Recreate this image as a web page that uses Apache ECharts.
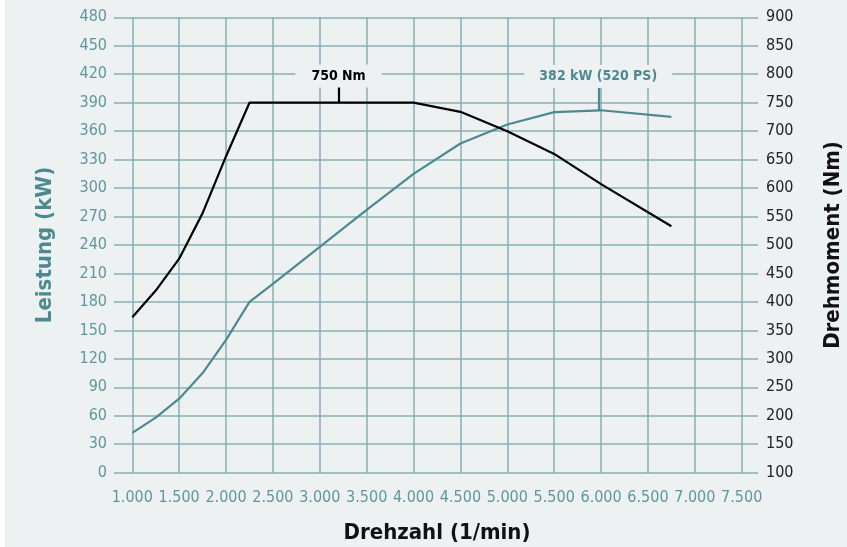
<!DOCTYPE html>
<html>
<head>
<meta charset="utf-8">
<script src="https://cdn.jsdelivr.net/npm/echarts@6/dist/echarts.min.js"></script>
<style>
html,body{margin:0;padding:0;background:#ffffff;}
#chart{width:847px;height:547px;}
</style>
</head>
<body>
<div id="chart"></div>
<script>
// Data
var rpmPower   = [1000, 1250, 1500, 1750, 2000, 2250, 2500, 3000, 3500, 4000, 4500, 5000, 5500, 6000, 6750];
var powerKW    = [42,   58,   78,   105,  140,  180,  199,  238,  277,  315,  347,  367,  380,  382,  375];
var rpmTorque  = [1000, 1250, 1500, 1750, 2000, 2250, 4000, 4500, 5000, 5500, 6000, 6750];
var torqueNm   = [373,  420,  476,  556,  656,  750,  750,  734,  700,  660,  607,  533];
var xTicks     = [1000, 1500, 2000, 2500, 3000, 3500, 4000, 4500, 5000, 5500, 6000, 6500, 7000, 7500];
var leftTicks  = [0, 30, 60, 90, 120, 150, 180, 210, 240, 270, 300, 330, 360, 390, 420, 450, 480];
var rightTicks = [100, 150, 200, 250, 300, 350, 400, 450, 500, 550, 600, 650, 700, 750, 800, 850, 900];
var torqueNote = {rpm: 3200, value: 750, tip: 778, labelAt: 797, text: '750 Nm'};
var powerNote  = {rpm: 5970, value: 382, tip: 407, labelAt: 417.5, text: '382 kW (520 PS)'};

var BG = '#edf1f2';
var TEAL = '#4d8a90';
var TEAL_TXT = '#5f979c';
var GRID = '#86afb4';
var TICKFONT = "'Liberation Sans Narrow','DejaVu Sans Condensed','Roboto',sans-serif";
var BOLDFONT = "'Liberation Sans Narrow','DejaVu Sans Condensed','Roboto',sans-serif";

function pair(xs, ys){ return xs.map(function(x,i){ return [x, ys[i]]; }); }
function fmtRpm(v){ var s = String(v); return s.slice(0, s.length-3) + '.' + s.slice(-3); }

var chart = echarts.init(document.getElementById('chart'));
chart.setOption({
  backgroundColor: BG,
  animation: false,
  graphic: [{type:'rect', left:0, top:0, shape:{x:0,y:0,width:5,height:547}, style:{fill:'#ffffff'}, silent:true}],
  grid: [
    {left:114, right:89, top:17.3, bottom:547-472.7, outerBoundsMode:'none', containLabel:false},
    {left:132.3, right:105.3, top:17.3, bottom:547-472.7, outerBoundsMode:'none', containLabel:false}
  ],
  xAxis: [
    {gridIndex:0, type:'value', min:0, max:1, show:false},
    {gridIndex:1, type:'value', min:xTicks[0], max:xTicks[xTicks.length-1], interval:500,
      axisLine:{show:false}, axisTick:{show:false},
      splitLine:{show:true, lineStyle:{color:GRID, width:1.5}},
      axisLabel:{color:TEAL_TXT, fontFamily:TICKFONT, fontSize:16, margin:17, formatter:fmtRpm},
      name:'Drehzahl (1/min)', nameLocation:'middle', nameGap:50,
      nameTextStyle:{color:'#111', fontFamily:BOLDFONT, fontWeight:'bold', fontSize:22}
    }
  ],
  yAxis: [
    {gridIndex:0, type:'value', position:'left', min:leftTicks[0], max:leftTicks[leftTicks.length-1], interval:30,
      axisLine:{show:false}, axisTick:{show:false},
      splitLine:{show:true, lineStyle:{color:GRID, width:1.5}},
      axisLabel:{color:TEAL_TXT, fontFamily:TICKFONT, fontSize:16, margin:7},
      name:'Leistung (kW)', nameLocation:'middle', nameGap:58, nameRotate:90,
      nameTextStyle:{color:TEAL, fontFamily:BOLDFONT, fontWeight:'bold', fontSize:22}
    },
    {gridIndex:0, type:'value', position:'right', min:rightTicks[0], max:rightTicks[rightTicks.length-1], interval:50,
      axisLine:{show:false}, axisTick:{show:false}, splitLine:{show:false},
      axisLabel:{color:'#222222', fontFamily:TICKFONT, fontSize:16, margin:8},
      name:'Drehmoment (Nm)', nameLocation:'middle', nameGap:64, nameRotate:90,
      nameTextStyle:{color:'#111', fontFamily:BOLDFONT, fontWeight:'bold', fontSize:22}
    },
    {gridIndex:1, type:'value', min:leftTicks[0], max:leftTicks[leftTicks.length-1], interval:30, show:false, splitLine:{show:false}},
    {gridIndex:1, type:'value', min:rightTicks[0], max:rightTicks[rightTicks.length-1], interval:50, show:false, splitLine:{show:false}}
  ],
  series: [
    {type:'line', name:'Leistung', xAxisIndex:1, yAxisIndex:2, data:pair(rpmPower, powerKW),
      showSymbol:false, symbol:'none', lineStyle:{color:TEAL, width:2.2}, z:3,
      markLine:{silent:true, symbol:['none','none'], lineStyle:{color:TEAL, width:2.2, type:'solid'}, label:{show:false},
        data:[[{coord:[powerNote.rpm, powerNote.value]},{coord:[powerNote.rpm, powerNote.tip]}]]},
      markPoint:{silent:true, symbol:'rect', symbolSize:0,
        data:[{coord:[powerNote.rpm, powerNote.labelAt], value:powerNote.text,
          label:{show:true, position:'inside', formatter:powerNote.text, color:TEAL, fontFamily:BOLDFONT, fontWeight:'bold', fontSize:14,
            backgroundColor:BG, padding:[4,15], lineHeight:15}}]}
    },
    {type:'line', name:'Drehmoment', xAxisIndex:1, yAxisIndex:3, data:pair(rpmTorque, torqueNm),
      showSymbol:false, symbol:'none', lineStyle:{color:'#000', width:2.2}, z:4,
      markLine:{silent:true, symbol:['none','none'], lineStyle:{color:'#000', width:2.2, type:'solid'}, label:{show:false},
        data:[[{coord:[torqueNote.rpm, torqueNote.value]},{coord:[torqueNote.rpm, torqueNote.tip]}]]},
      markPoint:{silent:true, symbol:'rect', symbolSize:0,
        data:[{coord:[torqueNote.rpm, torqueNote.labelAt], value:torqueNote.text,
          label:{show:true, position:'inside', formatter:torqueNote.text, color:'#000', fontFamily:BOLDFONT, fontWeight:'bold', fontSize:14,
            backgroundColor:BG, padding:[4,16], lineHeight:15}}]}
    }
  ]
});
</script>
</body>
</html>
